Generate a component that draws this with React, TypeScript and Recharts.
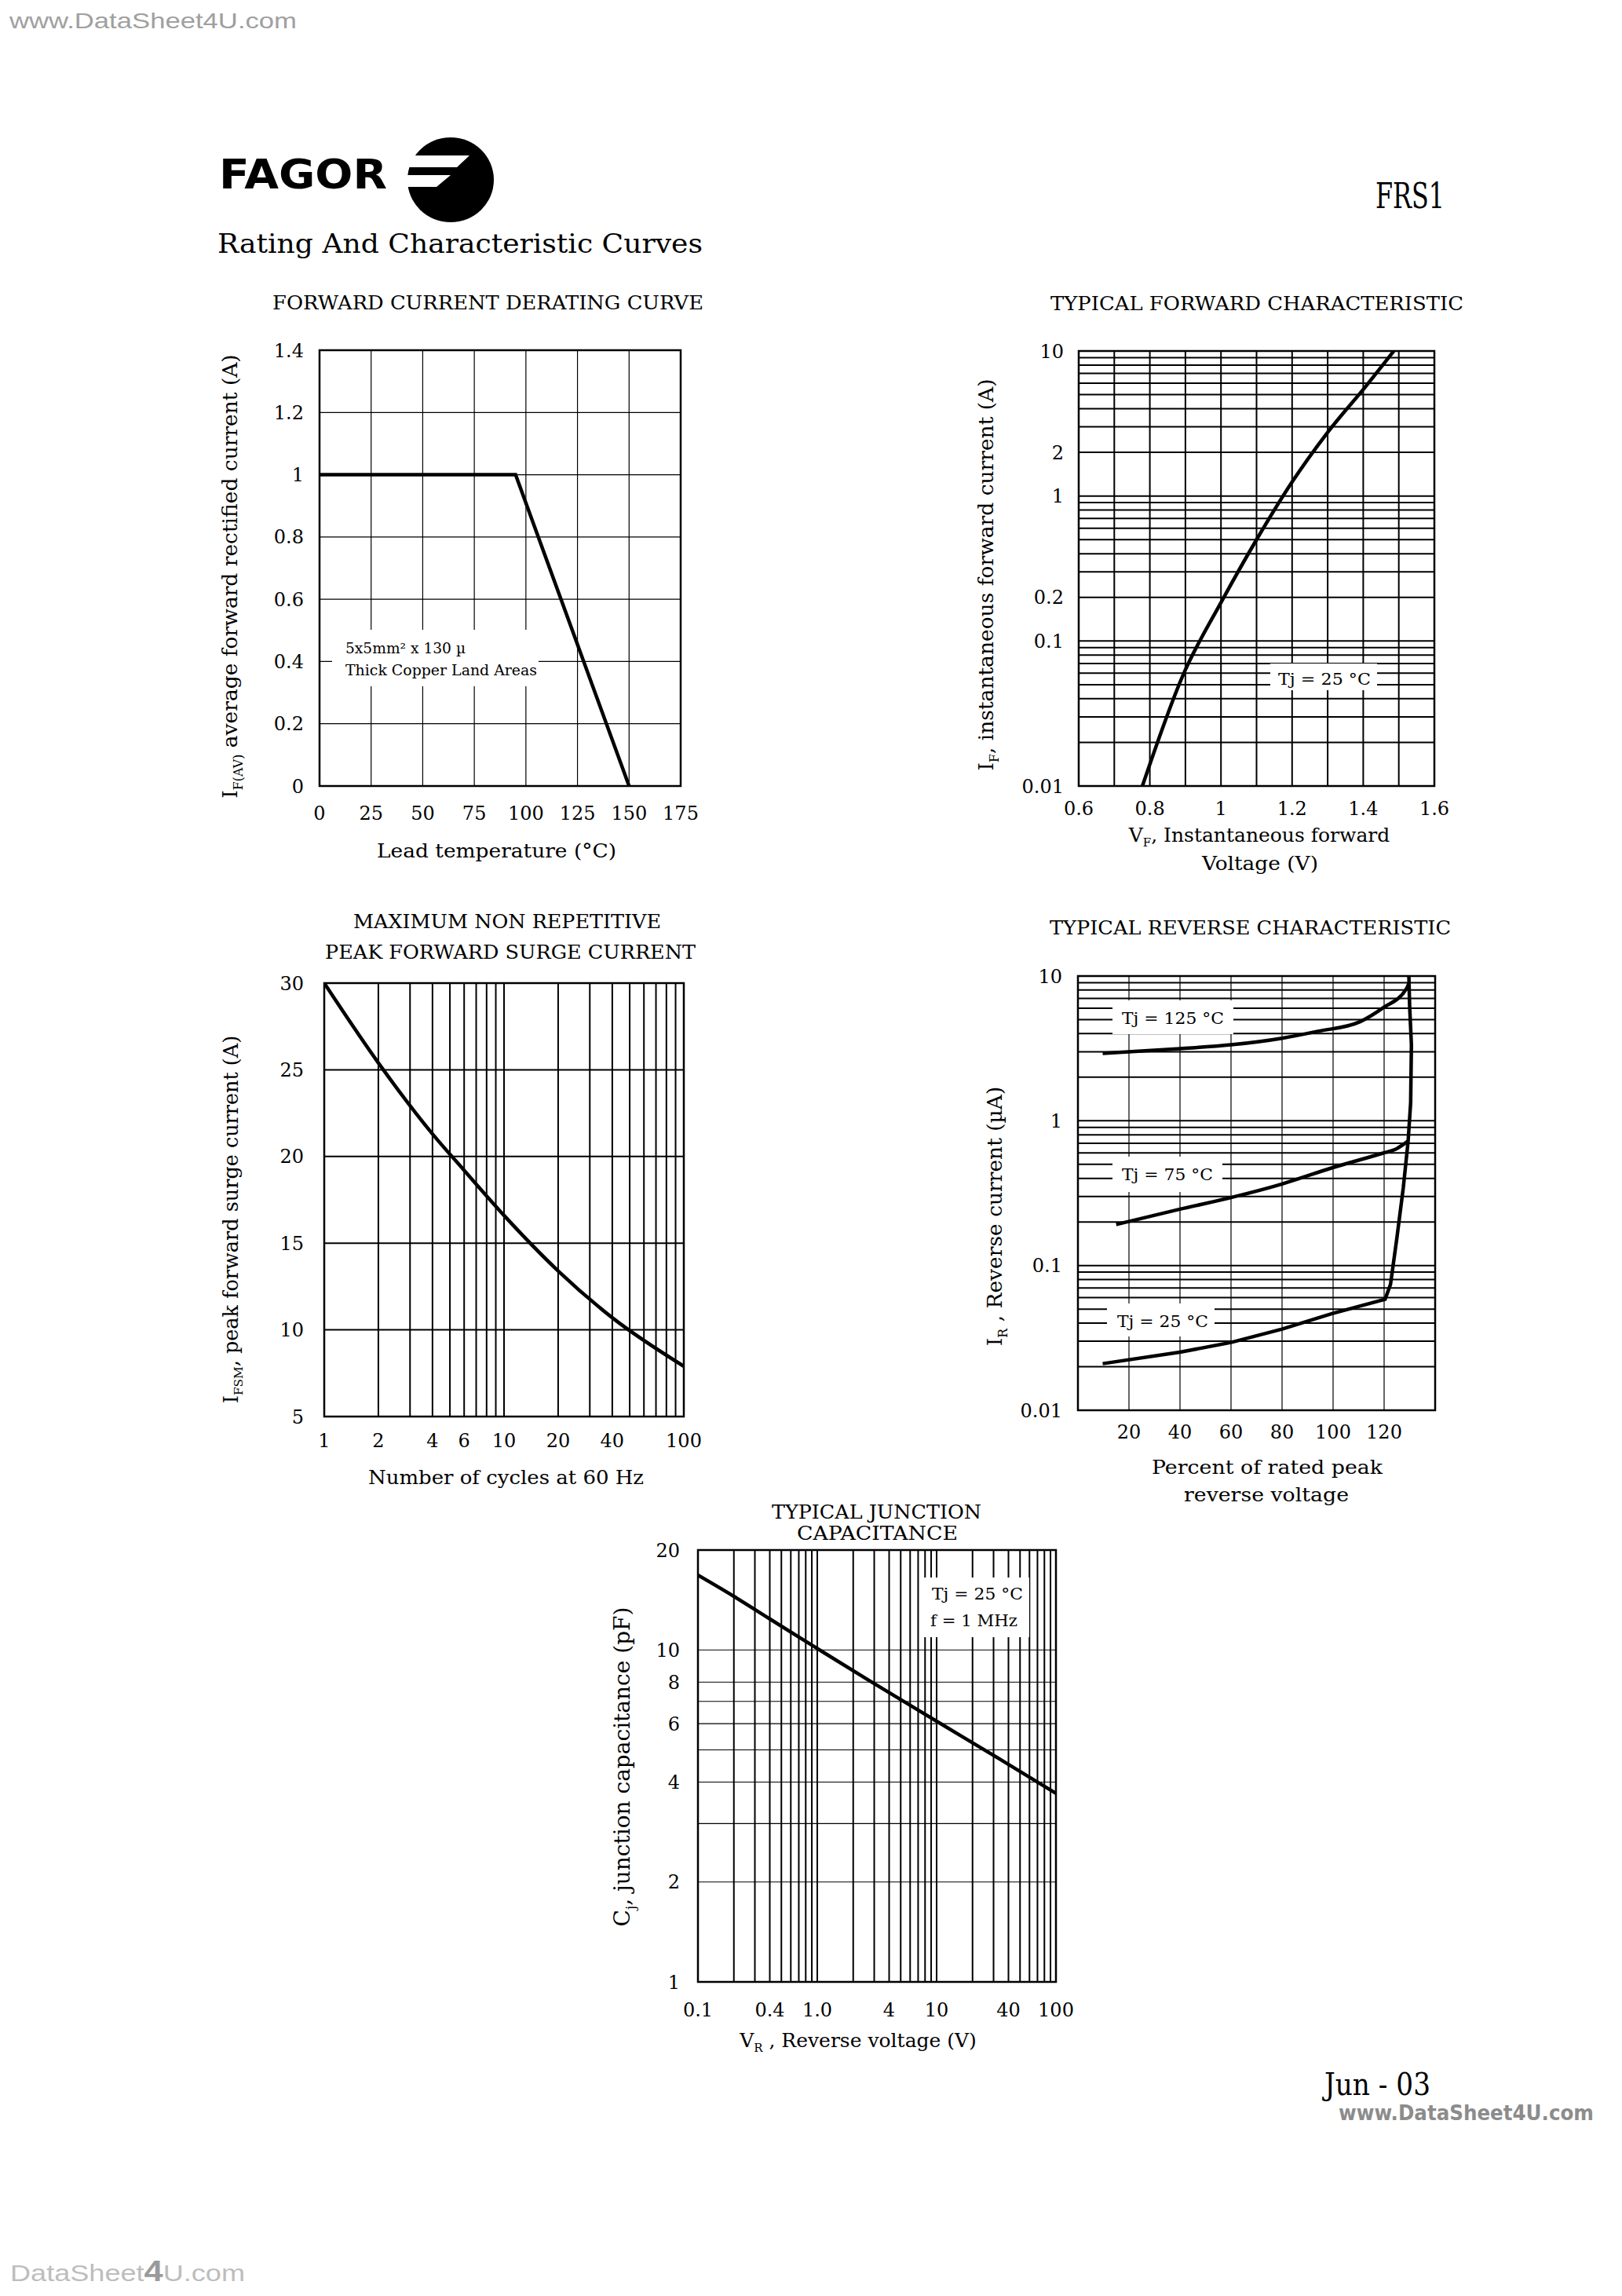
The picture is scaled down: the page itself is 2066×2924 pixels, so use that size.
import React from "react";
import { LineChart, Line, XAxis, YAxis, CartesianGrid, ReferenceArea } from "recharts";

const SERIF = "'DejaVu Serif', serif";
const SANS = "'DejaVu Sans', 'Liberation Sans', sans-serif";

// forward current derating curve
const leadTemp = [0, 95, 150];
const ifAvg = [1, 1, 0];
const derateX = [0, 25, 50, 75, 100, 125, 150, 175];
const derateY = [0, 0.2, 0.4, 0.6, 0.8, 1, 1.2, 1.4];

// typical forward characteristic
const vFwd = [0.779, 0.893, 1.0, 1.1, 1.2, 1.3, 1.407, 1.486];
const iFwd = [0.01, 0.058, 0.184, 0.5, 1.25, 2.75, 5.7, 10];
const fwdX = [0.6, 0.7, 0.8, 0.9, 1, 1.1, 1.2, 1.3, 1.4, 1.5, 1.6];
const fwdXLabels = [0.6, 0.8, 1, 1.2, 1.4, 1.6];
const fwdYLabels = [0.01, 0.1, 0.2, 1, 2, 10];

// peak forward surge current
const cycles = [1, 2, 4, 6, 10, 20, 40, 100];
const iSurge = [30, 25.4, 21.3, 19.2, 16.6, 13.4, 10.7, 7.9];
const surgeX = [1, 2, 3, 4, 5, 6, 7, 8, 9, 10, 20, 30, 40, 50, 60, 70, 80, 90, 100];
const surgeXLabels = [1, 2, 4, 6, 10, 20, 40, 100];
const surgeY = [5, 10, 15, 20, 25, 30];

// typical reverse characteristic
const pct125 = [9.7, 40, 60, 80, 94, 110.6, 119.4, 128.8, 129.7];
const ir125 = [2.92, 3.15, 3.35, 3.72, 4.15, 4.84, 6.0, 8.2, 8.9];
const pct75 = [15, 40, 60, 80, 99.6, 119.6, 124.4, 129.2];
const ir75 = [0.192, 0.245, 0.295, 0.366, 0.473, 0.598, 0.635, 0.72];
const pct25 = [9.7, 40, 60, 80, 99.6, 120.4, 122.5, 125, 127.5, 129.4, 130.4, 130.7, 130, 129.7];
const ir25 = [0.021, 0.0252, 0.0294, 0.0364, 0.0466, 0.0585, 0.074, 0.155, 0.343, 0.72, 1.33, 3.35, 6.2, 10];
const revX = [20, 40, 60, 80, 100, 120];
const revYLabels = [0.01, 0.1, 1, 10];

// typical junction capacitance
const vRev = [0.1, 0.2, 0.4, 1, 2.7, 10, 37, 100];
const cJ = [16.8, 14.5, 12.4, 10.1, 8.1, 6.1, 4.6, 3.7];
const capXVals = [0.1, 0.4, 1, 4, 10, 40, 100];
const capXText = ["0.1", "0.4", "1.0", "4", "10", "40", "100"];
const capY = [1, 2, 3, 4, 5, 6, 7, 8, 10, 20];
const capYLabels = [1, 2, 4, 6, 8, 10, 20];

// 1..9 gridlines per decade
const logGrid = (decades: number[]) =>
  decades
    .flatMap((d) => [1, 2, 3, 4, 5, 6, 7, 8, 9].map((m) => +(m * d).toPrecision(3)))
    .concat([decades[decades.length - 1] * 10]);

type Pt = { x: number; y: number };
type Curve = { data: Pt[]; curve: "linear" | "monotone" };
const pts = (xs: number[], ys: number[]): Pt[] => xs.map((x, i) => ({ x, y: ys[i] }));
const only = (labels: number[]) => (v: number) => (labels.includes(v) ? String(v) : "");

const PAD = { l: 90, r: 44, t: 14, b: 70 };
const tickStyle = { fontSize: 24, fill: "#000", fontFamily: SERIF };

type PanelProps = {
  box: [number, number, number, number];
  xDomain: [number, number];
  yDomain: [number, number];
  xLog?: boolean;
  yLog?: boolean;
  xTicks: number[];
  yTicks: number[];
  xFmt?: (v: number) => string;
  yFmt?: (v: number) => string;
  xGap: number;
  yGap: number;
  vGrid: number;
  hGrid: number;
  series: Curve[];
  lineW: number;
};

function Panel(p: PanelProps) {
  const [left, top, w, h] = p.box;
  return (
    <div style={{ position: "absolute", left: left - PAD.l, top: top - PAD.t, zIndex: 1 }}>
      <LineChart
        width={w + PAD.l + PAD.r}
        height={h + PAD.t + PAD.b}
        margin={{ top: PAD.t, right: PAD.r, bottom: 0, left: 0 }}
      >
        <CartesianGrid horizontal={false} stroke="#000" strokeWidth={p.vGrid} />
        <CartesianGrid vertical={false} stroke="#000" strokeWidth={p.hGrid} />
        <XAxis
          dataKey="x"
          type="number"
          scale={p.xLog ? "log" : "linear"}
          domain={p.xDomain}
          ticks={p.xTicks}
          interval={0}
          allowDataOverflow
          tickFormatter={p.xFmt}
          tickSize={0}
          tickMargin={p.xGap}
          axisLine={false}
          tickLine={false}
          height={PAD.b}
          tick={tickStyle}
        />
        <YAxis
          type="number"
          scale={p.yLog ? "log" : "linear"}
          domain={p.yDomain}
          ticks={p.yTicks}
          interval={0}
          allowDataOverflow
          tickFormatter={p.yFmt}
          tickSize={0}
          tickMargin={p.yGap}
          axisLine={false}
          tickLine={false}
          width={PAD.l}
          tick={tickStyle}
        />
        <ReferenceArea
          x1={p.xDomain[0]}
          x2={p.xDomain[1]}
          y1={p.yDomain[0]}
          y2={p.yDomain[1]}
          fill="none"
          stroke="#000"
          strokeWidth={2.5}
          ifOverflow="visible"
        />
        {p.series.map((s, i) => (
          <Line
            key={i}
            data={s.data}
            dataKey="y"
            type={s.curve}
            stroke="#000"
            strokeWidth={p.lineW}
            dot={false}
            isAnimationActive={false}
          />
        ))}
      </LineChart>
    </div>
  );
}

type TxtProps = {
  x: number;
  y: number;
  len?: number;
  size?: number;
  anchor?: "start" | "middle" | "end";
  weight?: number | string;
  fill?: string;
  family?: string;
  children: React.ReactNode;
};

const Txt = ({ x, y, len, size = 24, anchor = "start", weight = 400, fill = "#000", family = SERIF, children }: TxtProps) => (
  <text
    x={x}
    y={y}
    fontSize={size}
    fontFamily={family}
    fontWeight={weight}
    fill={fill}
    textAnchor={anchor}
    textLength={len}
    lengthAdjust={len ? "spacingAndGlyphs" : undefined}
  >
    {children}
  </text>
);

// rotated axis title with a subscript after the first letter
const VLabel = ({ x, y, main, sub, rest, size = 26 }: { x: number; y: number; main: string; sub: string; rest: string; size?: number }) => (
  <text transform={`translate(${x},${y}) rotate(-90)`} textAnchor="middle" fontSize={size} fontFamily={SERIF} fill="#000">
    {main}
    <tspan fontSize={size * 0.6} dy={size * 0.25}>{sub}</tspan>
    <tspan dy={-size * 0.25}>{rest}</tspan>
  </text>
);

const Box = ({ x, y, w, h }: { x: number; y: number; w: number; h: number }) => (
  <rect x={x} y={y} width={w} height={h} fill="#fff" />
);

export default function App() {
  const fwdGrid = logGrid([0.01, 0.1, 1]);
  const revGrid = logGrid([0.01, 0.1, 1]);
  const capXGrid = logGrid([0.1, 1, 10]);
  return (
    <div style={{ position: "absolute", left: 0, top: 0, width: 2066, height: 2924, background: "#fff", overflow: "hidden" }}>
      <Panel
        box={[407, 446, 460, 555]}
        xDomain={[0, 175]}
        yDomain={[0, 1.4]}
        xTicks={derateX}
        yTicks={derateY}
        xGap={26}
        yGap={20}
        vGrid={1.2}
        hGrid={1.2}
        series={[{ data: pts(leadTemp, ifAvg), curve: "linear" }]}
        lineW={4.5}
      />
      <Panel
        box={[1374, 447, 453, 554]}
        xDomain={[0.6, 1.6]}
        yDomain={[0.01, 10]}
        yLog
        xTicks={fwdX}
        yTicks={fwdGrid}
        xFmt={only(fwdXLabels)}
        yFmt={only(fwdYLabels)}
        xGap={20}
        yGap={19}
        vGrid={2}
        hGrid={2}
        series={[{ data: pts(vFwd, iFwd), curve: "monotone" }]}
        lineW={4.5}
      />
      <Panel
        box={[413, 1252, 458, 552]}
        xDomain={[1, 100]}
        yDomain={[5, 30]}
        xLog
        xTicks={surgeX}
        yTicks={surgeY}
        xFmt={only(surgeXLabels)}
        xGap={22}
        yGap={26}
        vGrid={2}
        hGrid={2}
        series={[{ data: pts(cycles, iSurge), curve: "monotone" }]}
        lineW={4.5}
      />
      <Panel
        box={[1373, 1243, 455, 553]}
        xDomain={[0, 140]}
        yDomain={[0.01, 10]}
        yLog
        xTicks={revX}
        yTicks={revGrid}
        yFmt={only(revYLabels)}
        xGap={19}
        yGap={20}
        vGrid={1.2}
        hGrid={2}
        series={[
          { data: pts(pct125, ir125), curve: "monotone" },
          { data: pts(pct75, ir75), curve: "monotone" },
          { data: pts(pct25, ir25), curve: "linear" },
        ]}
        lineW={4.5}
      />
      <Panel
        box={[889, 1974, 456, 550]}
        xDomain={[0.1, 100]}
        yDomain={[1, 20]}
        xLog
        yLog
        xTicks={capXGrid}
        yTicks={capY}
        xFmt={(v) => {
          const i = capXVals.indexOf(v);
          return i >= 0 ? capXText[i] : "";
        }}
        yFmt={only(capYLabels)}
        xGap={27}
        yGap={23}
        vGrid={2}
        hGrid={1.2}
        series={[{ data: pts(vRev, cJ), curve: "monotone" }]}
        lineW={4.5}
      />

      <svg width={2066} height={2924} style={{ position: "absolute", left: 0, top: 0, zIndex: 2, pointerEvents: "none" }}>
        {/* page furniture */}
        <Txt x={12} y={36} size={28} len={366} fill="#a0a0a0" family="'Liberation Sans', sans-serif">www.DataSheet4U.com</Txt>
        <Txt x={279} y={240} size={52} len={214} weight={700} family={SANS}>FAGOR</Txt>
        <ellipse cx={574} cy={229} rx={55} ry={54} fill="#000" />
        <polygon points="515,198 598,198 582,213 515,213" fill="#fff" />
        <polygon points="515,223 574,223 556,238 515,238" fill="#fff" />
        <Txt x={277} y={322} size={33} len={618}>Rating And Characteristic Curves</Txt>
        <Txt x={1752} y={265} size={44} len={88}>FRS1</Txt>
        <Txt x={1687} y={2668} size={40} len={135}>Jun - 03</Txt>
        <Txt x={1705} y={2700} size={26} len={325} weight={700} fill="#8c8c8c" family={SANS}>www.DataSheet4U.com</Txt>
        <text x={13} y={2905} fontSize={30} fontFamily="'Liberation Sans', sans-serif" fill="#bdbdbd" textLength={299} lengthAdjust="spacingAndGlyphs">
          DataSheet<tspan fontWeight={700} fontSize={36} fill="#9a9a9a">4</tspan>U.com
        </text>

        {/* forward current derating curve */}
        <Txt x={347} y={394} size={24} len={549}>FORWARD CURRENT DERATING CURVE</Txt>
        <Txt x={480} y={1092} size={25} len={305}>Lead temperature (°C)</Txt>
        <VLabel x={302} y={734} main="I" sub="F(AV)" rest=" average forward rectified current (A)" size={26.5} />
        <Box x={423} y={802} w={263} h={72} />
        <Txt x={440} y={832} size={18} len={153}>5x5mm² x 130 µ</Txt>
        <Txt x={440} y={860} size={18} len={244}>Thick Copper Land Areas</Txt>

        {/* typical forward characteristic */}
        <Txt x={1338} y={395} size={24} len={526}>TYPICAL FORWARD CHARACTERISTIC</Txt>
        <text x={1604} y={1072} textAnchor="middle" fontSize={25} fontFamily={SERIF}>
          V<tspan fontSize={15} dy={6}>F</tspan><tspan dy={-6}>, Instantaneous forward</tspan>
        </text>
        <Txt x={1531} y={1108} size={25} len={148}>Voltage (V)</Txt>
        <VLabel x={1265} y={732} main="I" sub="F" rest=", instantaneous forward current  (A)" size={26.5} />
        <Box x={1618} y={845} w={136} h={34} />
        <Txt x={1628} y={872} size={21} len={118}>Tj = 25 °C</Txt>

        {/* surge current */}
        <Txt x={450} y={1182} size={24} len={392}>MAXIMUM NON REPETITIVE</Txt>
        <Txt x={414} y={1221} size={24} len={472}>PEAK FORWARD SURGE CURRENT</Txt>
        <Txt x={469} y={1890} size={25} len={351}>Number of cycles at 60 Hz</Txt>
        <VLabel x={303} y={1553} main="I" sub="FSM" rest=", peak forward surge current (A)" size={25.5} />

        {/* typical reverse characteristic */}
        <Txt x={1337} y={1190} size={24} len={511}>TYPICAL REVERSE CHARACTERISTIC</Txt>
        <Txt x={1467} y={1877} size={25} len={294}>Percent of rated peak</Txt>
        <Txt x={1508} y={1912} size={25} len={210}>reverse voltage</Txt>
        <VLabel x={1276} y={1549} main="I" sub="R" rest=" ,  Reverse current (µA)" size={26.5} />
        <Box x={1417} y={1274} w={154} h={43} />
        <Txt x={1429} y={1304} size={21} len={130}>Tj = 125 °C</Txt>
        <Box x={1417} y={1473} w={140} h={45} />
        <Txt x={1429} y={1503} size={21} len={116}>Tj = 75 °C</Txt>
        <Box x={1410} y={1660} w={137} h={42} />
        <Txt x={1423} y={1690} size={21} len={116}>Tj = 25 °C</Txt>

        {/* typical junction capacitance */}
        <Txt x={983} y={1934} size={24} len={267}>TYPICAL JUNCTION</Txt>
        <Txt x={1015} y={1961} size={24} len={205}>CAPACITANCE</Txt>
        <text x={1093} y={2607} textAnchor="middle" fontSize={25} fontFamily={SERIF}>
          V<tspan fontSize={15} dy={6}>R</tspan><tspan dy={-6}> , Reverse voltage (V)</tspan>
        </text>
        <VLabel x={802} y={2250} main="C" sub="j" rest=",  junction capacitance (pF)" size={28} />
        <Box x={1171} y={2009} w={140} h={76} />
        <Txt x={1187} y={2037} size={21} len={116}>Tj = 25 °C</Txt>
        <Txt x={1185} y={2071} size={21} len={111}>f = 1 MHz</Txt>
      </svg>
    </div>
  );
}
